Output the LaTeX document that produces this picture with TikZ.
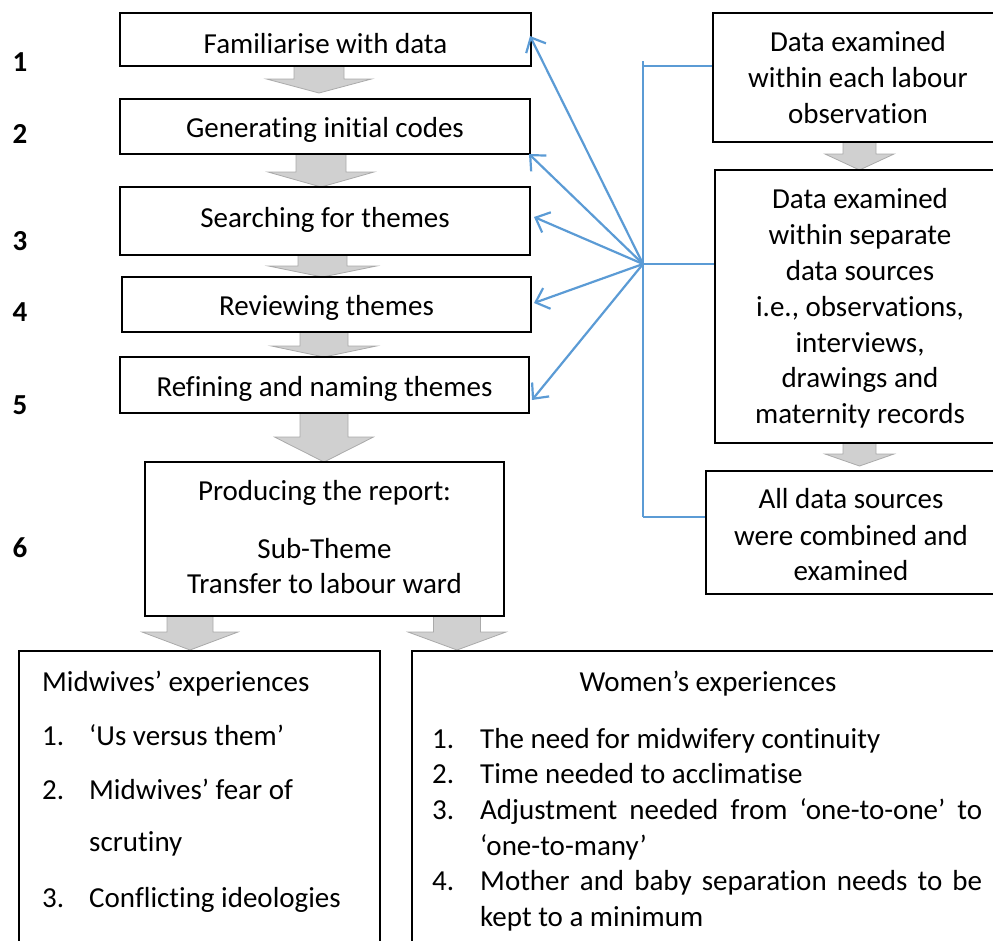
\documentclass[tikz,border=0pt]{standalone}
\usepackage{fontspec}
\setmainfont[Ligatures=NoCommon]{Carlito}
\usetikzlibrary{arrows.meta}
\definecolor{lnblue}{RGB}{91,155,213}
\definecolor{arrfill}{RGB}{208,208,208}
\definecolor{arrdraw}{RGB}{170,170,170}
\tikzset{
 box/.style={draw=black, line width=2.4pt, inner sep=0pt},
 txt/.style={anchor=base, inner sep=0pt, font=\fontsize{29}{35.8}\selectfont},
 ltxt/.style={txt, anchor=base west},
 num/.style={txt, font=\fontsize{29}{35.8}\selectfont\bfseries},
 blink/.style={draw=lnblue, line width=2.2pt, -{Straight Barb[length=12pt,width=22pt]}},
 bthin/.style={draw=lnblue, line width=1.2pt},
 garrow/.style={fill=arrfill, draw=arrdraw, line width=0.8pt},
}
\newcommand\garrowat[6]{%
 \path[garrow] (#1-#5,#2) -- (#1-#5,#3) -- (#1-#6,#3) -- (#1,#4) -- (#1+#6,#3) -- (#1+#5,#3) -- (#1+#5,#2) -- cycle;
}
\begin{document}
\begin{tikzpicture}[x=1pt,y=-1pt]
\useasboundingbox (0,0) rectangle (993,940);
\clip (0,0) rectangle (993,940);
% grey block arrows
\garrowat{319}{66}{79}{93}{25}{52.5}
\garrowat{321}{154}{172}{187}{25}{53}
\garrowat{322.5}{255}{266}{277}{24.5}{54}
\garrowat{324}{332}{346}{357}{24}{52.5}
\garrowat{324}{413}{437}{462}{24}{49.5}
\garrowat{190}{616}{632}{650}{23}{48}
\garrowat{457}{616}{632}{650}{23.5}{49}
\garrowat{859.5}{142}{154}{170}{16.5}{34.5}
\garrowat{859.5}{443}{454}{466}{16.5}{34.5}
% left boxes
\node[box, minimum width=411pt, minimum height=53pt] (b1) at (325.5,39.5) {};
\node[box, minimum width=410pt, minimum height=55pt] (b2) at (325,126.5) {};
\node[box, minimum width=410pt, minimum height=68pt] (b3) at (325,221) {};
\node[box, minimum width=409pt, minimum height=55pt] (b4) at (326.5,304.5) {};
\node[box, minimum width=409pt, minimum height=56pt] (b5) at (324.5,385) {};
\node[box, minimum width=359pt, minimum height=154pt] (b6) at (324.5,539) {};
% right boxes
\node[box, minimum width=290pt, minimum height=129pt] (r1) at (858,77.5) {};
\node[box, minimum width=290pt, minimum height=273pt] (r2) at (860,306.5) {};
\node[box, minimum width=290pt, minimum height=123pt] (r3) at (851,532.5) {};
% bottom boxes
\node[box, minimum width=361pt, minimum height=309pt] (m0) at (199.5,805.5) {};
\node[box, minimum width=588pt, minimum height=309pt] (w0) at (706,805.5) {};
% step numbers
\node[num] (n1) at (20,71) {1};
\node[num] (n2) at (20,143) {2};
\node[num] (n3) at (20,250) {3};
\node[num] (n4) at (20,321) {4};
\node[num] (n5) at (20,414) {5};
\node[num] (n6) at (20,557) {6};
% left box texts
\node[txt] (t1) at (325.5,53) {Familiarise with data};
\node[txt] (t2) at (325,137) {Generating initial codes};
\node[txt] (t3) at (325,227) {Searching for themes};
\node[txt] (t4) at (326.5,315) {Reviewing themes};
\node[txt] (t5) at (324.5,396) {Refining and naming themes};
\node[txt] (t6a) at (324.5,500) {Producing the report:};
\node[txt] (t6b) at (324.5,558) {Sub-Theme};
\node[txt] (t6c) at (324.5,593) {Transfer to labour ward};
% right box texts
\node[txt] (r1a) at (858,51) {Data examined};
\node[txt] (r1b) at (858,87) {within each labour};
\node[txt] (r1c) at (858,123) {observation};
\node[txt] (r2a) at (860,208) {Data examined};
\node[txt] (r2b) at (860,244) {within separate};
\node[txt] (r2c) at (860,280) {data sources};
\node[txt] (r2d) at (860,316) {i.e., observations,};
\node[txt] (r2e) at (860,352) {interviews,};
\node[txt] (r2f) at (860,387) {drawings and};
\node[txt] (r2g) at (860,423) {maternity records};
\node[txt] (r3a) at (851,508) {All data sources};
\node[txt] (r3b) at (851,545) {were combined and};
\node[txt] (r3c) at (851,580) {examined};
% midwives box
\node[ltxt] (mh) at (42,691) {Midwives’ experiences};
\node[ltxt] (m1n) at (42,745) {1.};
\node[ltxt] (m1t) at (89,745) {‘Us versus them’};
\node[ltxt] (m2n) at (42,799) {2.};
\node[ltxt] (m2t) at (89,799) {Midwives’ fear of};
\node[ltxt] (m2u) at (89,851) {scrutiny};
\node[ltxt] (m3n) at (42,907) {3.};
\node[ltxt] (m3t) at (89,907) {Conflicting ideologies};
% women box
\node[txt] (wh) at (708,691) {Women’s experiences};
\node[ltxt] (w1n) at (432,748) {1.};
\node[ltxt] (w1t) at (480,748) {The need for midwifery continuity};
\node[ltxt] (w2n) at (432,783) {2.};
\node[ltxt] (w2t) at (480,783) {Time needed to acclimatise};
\node[ltxt] (w3n) at (432,819) {3.};
\node[ltxt] (w3t) at (480,819) {\makebox[502pt][s]{Adjustment needed from ‘one-to-one’ to}};
\node[ltxt] (w3u) at (480,855) {‘one-to-many’};
\node[ltxt] (w4n) at (432,890) {4.};
\node[ltxt] (w4t) at (480,890) {\makebox[502pt][s]{Mother and baby separation needs to be}};
\node[ltxt] (w4u) at (480,926) {kept to a minimum};
% blue connectors
\coordinate (hub) at (643,264);
\coordinate (vtop) at (643,61);
\coordinate (vbot) at (643,517);
\coordinate (h1) at (643,66);
\draw[bthin] (vtop) -- (vbot);
\draw[bthin] (h1) -- (h1 -| r1.west);
\draw[bthin] (hub) -- (hub -| r2.west);
\draw[bthin] (vbot) -- (vbot -| r3.west);
\coordinate (p1) at (530,36);
\coordinate (p2) at (529,154);
\coordinate (p3) at (534,217);
\coordinate (p4) at (534,303);
\coordinate (p5) at (532,400);
\draw[blink] (hub) -- (p1);
\draw[blink] (hub) -- (p2);
\draw[blink] (hub) -- (p3);
\draw[blink] (hub) -- (p4);
\draw[blink] (hub) -- (p5);
\end{tikzpicture}
\end{document}
